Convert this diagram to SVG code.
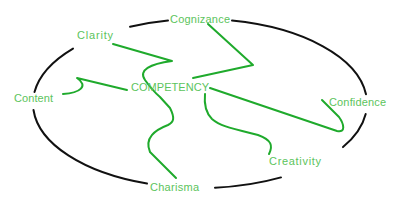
<svg xmlns="http://www.w3.org/2000/svg" width="400" height="205" viewBox="0 0 400 205">
<style>
.arc{fill:none;stroke:#111;stroke-width:2;stroke-linecap:round}
.con{fill:none;stroke:#1faa2c;stroke-width:2;stroke-linecap:round;stroke-linejoin:round}
.lbl{font-family:"Liberation Sans",Arial,sans-serif;font-size:11px;fill:#5cc45c}
</style>
<rect width="400" height="205" fill="#fff"/>
<g id="ring">
<path class="arc" d="M130,26.8 A167,84.5 0 0 1 168,20.6"/>
<path class="arc" d="M232,20.6 A167,84.5 0 0 1 366,94.3"/>
<path class="arc" d="M34.5,92 A167,84.5 0 0 1 73,48.6"/>
<path class="arc" d="M147,183.6 A167,84.5 0 0 1 33.5,110"/>
<path class="arc" d="M281,177.4 A167,84.5 0 0 1 215,187.7"/>
<path class="arc" d="M365.7,114 A167,84.5 0 0 1 343,147.1"/>
</g>
<g id="connectors">
<path class="con" d="M113,44 L172,61 C150,64 138,70 145,80 C150,87 154,92 160,97 L170,108 C175,118 174,122 168,125 C155,130 144,138 150,152 L176,178"/>
<path class="con" d="M208,24 L253,65 L193,78"/>
<path class="con" d="M210,88 L337,131 C346,133 344,124 339,117 L322,100"/>
<path class="con" d="M205,94 C204,104 206,113 212,119 C220,126 230,128 258,135 C272,140 273,146 269,154"/>
<path class="con" d="M63,94 C80,93 89,86 77,78 L127,90"/>
</g>
<g id="competency"><text class="lbl" x="131" y="91" textLength="78">COMPETENCY</text></g>
<g id="cognizance"><text class="lbl" x="170" y="23" textLength="60">Cognizance</text></g>
<g id="clarity"><text class="lbl" x="77" y="39" textLength="36">Clarity</text></g>
<g id="content"><text class="lbl" x="14" y="102" textLength="39">Content</text></g>
<g id="confidence"><text class="lbl" x="329" y="106" textLength="57">Confidence</text></g>
<g id="creativity"><text class="lbl" x="269" y="165" textLength="52">Creativity</text></g>
<g id="charisma"><text class="lbl" x="150" y="191" textLength="49">Charisma</text></g>
</svg>
